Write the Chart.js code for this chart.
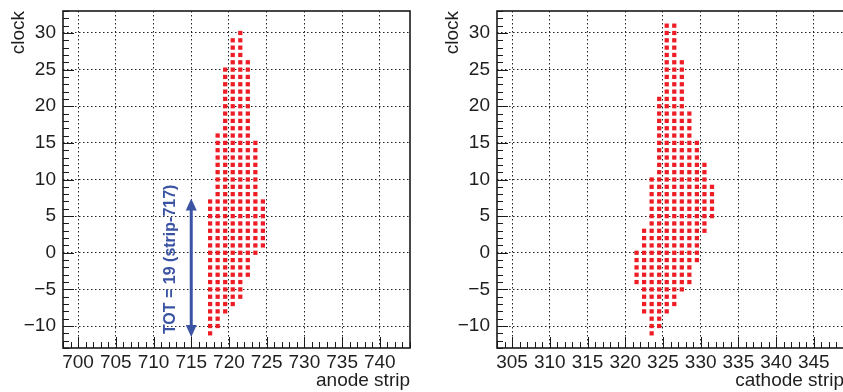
<!DOCTYPE html>
<html><head><meta charset="utf-8">
<script src="https://cdn.jsdelivr.net/npm/chart.js@4.4.1/dist/chart.umd.min.js"></script>
<style>
html,body{margin:0;padding:0;background:#fff;overflow:hidden;width:843px;height:392px;}
#wrap{position:relative;width:843px;height:392px;overflow:hidden;background:#fff;}
.c{position:absolute;top:0;width:434px;height:392px;}
</style></head><body>
<div id="wrap">
<div class="c" style="left:0"><canvas id="anode" width="434" height="392"></canvas></div>
<div class="c" style="left:434px"><canvas id="cathode" width="434" height="392"></canvas></div>
</div>
<script>
// ---- data ----
const clockRows = [31,30,29,28,27,26,25,24,23,22,21,20,19,18,17,16,15,14,13,12,11,10,9,8,7,6,5,4,3,2,1,0,-1,-2,-3,-4,-5,-6,-7,-8,-9,-10,-11];

const anodeStripsByClock = [
  [],
  [721],
  [720,721],
  [720,721],
  [720,721],
  [720,721,722],
  [719,720,721,722],
  [719,720,721,722],
  [719,720,721,722],
  [719,720,721,722],
  [719,720,721,722],
  [719,720,721,722],
  [719,720,721,722],
  [719,720,721,722],
  [719,720,721,722],
  [718,719,720,721,722],
  [718,719,720,721,722,723],
  [718,719,720,721,722,723],
  [718,719,720,721,722,723],
  [718,719,720,721,722,723],
  [718,719,720,721,722,723],
  [718,719,720,721,722,723],
  [718,719,720,721,722,723],
  [718,719,720,721,722,723],
  [717,718,719,720,721,722,723,724],
  [717,718,719,720,721,722,723,724],
  [717,718,719,720,721,722,723,724],
  [717,718,719,720,721,722,723,724],
  [717,718,719,720,721,722,723,724],
  [717,718,719,720,721,722,723,724],
  [717,718,719,720,721,722,723,724],
  [717,718,719,720,721,722,723],
  [717,718,719,720,721,722],
  [717,718,719,720,721,722],
  [717,718,719,720,721,722],
  [717,718,719,720,721],
  [717,718,719,720,721],
  [717,718,719,720,721],
  [717,718,719,720],
  [717,718,719],
  [717,718],
  [717,718],
  [717]
];

const cathodeStripsByClock = [
  [325,326],
  [325,326],
  [325,326],
  [325,326],
  [325,326],
  [325,326,327],
  [325,326,327],
  [325,326,327],
  [325,326,327],
  [325,326,327],
  [324,325,326,327],
  [324,325,326,327],
  [324,325,326,327,328],
  [324,325,326,327,328],
  [324,325,326,327,328],
  [324,325,326,327,328],
  [324,325,326,327,328,329],
  [324,325,326,327,328,329],
  [324,325,326,327,328,329],
  [324,325,326,327,328,329,330],
  [324,325,326,327,328,329,330],
  [323,324,325,326,327,328,329,330],
  [323,324,325,326,327,328,329,330,331],
  [323,324,325,326,327,328,329,330,331],
  [323,324,325,326,327,328,329,330,331],
  [323,324,325,326,327,328,329,330,331],
  [323,324,325,326,327,328,329,330,331],
  [323,324,325,326,327,328,329,330],
  [322,323,324,325,326,327,328,329,330],
  [322,323,324,325,326,327,328,329],
  [322,323,324,325,326,327,328,329],
  [321,322,323,324,325,326,327,328,329],
  [321,322,323,324,325,326,327,328,329],
  [321,322,323,324,325,326,327,328],
  [321,322,323,324,325,326,327,328],
  [321,322,323,324,325,326,327,328],
  [322,323,324,325,326,327],
  [322,323,324,325,326],
  [322,323,324,325,326],
  [322,323,324,325],
  [323,324],
  [323,324],
  [323]
];

const anodeTicks = [700,705,710,715,720,725,730,735,740];
const cathodeTicks = [305,310,315,320,325,330,335,340,345];
const clockTicks = [-10,-5,0,5,10,15,20,25,30];
const anodeRange = [698, 744];
const cathodeRange = [303, 349];
const clockRange = [-13, 33];

// annotation (TOT arrow)
const totLabel = 'TOT = 19 (strip-717)';
const totArrowStrip = 715;
const totArrowClock = [7.4, -11.5];
const totLabelPos = [712.3, -0.9];

// ---- styles ----
const BIN_CENTER = 0.5;
const FONT = '"Liberation Sans", Arial, Helvetica, sans-serif';
const TEXT = '#1e1e1e';
const RED = '#ee1c24';
const BLUE = '#3b53a3';
const GRID = '#222';

function buildPoints(rows, stripsByRow) {
  const pts = [];
  rows.forEach((clock, i) => stripsByRow[i].forEach(s => pts.push({x: s + BIN_CENTER, y: clock})));
  return pts;
}

const framePlugin = {
  id: 'rootFrame',
  afterDraw(chart) {
    const {ctx, chartArea: a} = chart;
    const x = chart.scales.x, y = chart.scales.y;
    ctx.save();
    ctx.strokeStyle = '#1a1a1a';
    ctx.lineWidth = 1;
    ctx.beginPath();
    for (let v = Math.ceil(x.min); v <= x.max; v++) {
      const px = Math.round(x.getPixelForValue(v)) + 0.5;
      const len = v % 5 === 0 ? 11 : 6;
      ctx.moveTo(px, a.bottom); ctx.lineTo(px, a.bottom - len);
    }
    for (let v = Math.ceil(y.min); v <= y.max; v++) {
      const py = Math.round(y.getPixelForValue(v)) + 0.5;
      const len = v % 5 === 0 ? 11 : 6;
      ctx.moveTo(a.left, py); ctx.lineTo(a.left + len, py);
    }
    ctx.stroke();
    ctx.lineWidth = 1.6;
    ctx.strokeRect(a.left, a.top, a.right - a.left, a.bottom - a.top);
    ctx.restore();
  }
};

const totPlugin = {
  id: 'totArrow',
  afterDatasetsDraw(chart) {
    const {ctx} = chart;
    const x = chart.scales.x, y = chart.scales.y;
    const ax = x.getPixelForValue(totArrowStrip);
    const yTop = y.getPixelForValue(totArrowClock[0]);
    const yBot = y.getPixelForValue(totArrowClock[1]);
    const head = 12, half = 5.5;
    ctx.save();
    ctx.strokeStyle = BLUE; ctx.fillStyle = BLUE; ctx.lineWidth = 3;
    ctx.beginPath(); ctx.moveTo(ax, yTop + head - 1); ctx.lineTo(ax, yBot - head + 1); ctx.stroke();
    ctx.beginPath(); ctx.moveTo(ax, yTop); ctx.lineTo(ax - half, yTop + head); ctx.lineTo(ax + half, yTop + head); ctx.closePath(); ctx.fill();
    ctx.beginPath(); ctx.moveTo(ax, yBot); ctx.lineTo(ax - half, yBot - head); ctx.lineTo(ax + half, yBot - head); ctx.closePath(); ctx.fill();
    ctx.translate(x.getPixelForValue(totLabelPos[0]), y.getPixelForValue(totLabelPos[1]));
    ctx.rotate(-Math.PI / 2);
    ctx.font = 'bold 16px ' + FONT;
    ctx.textAlign = 'center'; ctx.textBaseline = 'middle';
    ctx.fillText(totLabel, 0, 0);
    ctx.restore();
  }
};

const fmt = v => (v < 0 ? '\u2212' + Math.abs(v) : String(v));

function makeChart(id, range, xTicks, xTitle, points, extra) {
  return new Chart(document.getElementById(id), {
    type: 'scatter',
    data: { datasets: [{
      data: points, pointStyle: 'rect', pointRadius: 3, pointHoverRadius: 3,
      pointBackgroundColor: RED, pointBorderWidth: 0, borderWidth: 0
    }]},
    options: {
      responsive: false, animation: false, events: [],
      layout: { padding: { top: 11, right: 24, left: 0, bottom: 0 } },
      plugins: { legend: { display: false }, tooltip: { enabled: false } },
      scales: {
        x: {
          type: 'linear', min: range[0], max: range[1],
          afterBuildTicks: s => { s.ticks = xTicks.map(v => ({value: v})); },
          afterFit: s => { s.height = 44; s.paddingLeft = 0; s.paddingRight = 0; },
          grid: { color: GRID, lineWidth: 1, drawTicks: false },
          border: { display: false, dash: [1.5, 2.5] },
          ticks: { font: { family: FONT, size: 19 }, color: TEXT, padding: 3, maxRotation: 0, minRotation: 0, autoSkip: false, callback: fmt },
          title: { display: true, text: xTitle, align: 'end', font: { family: FONT, size: 19 }, color: TEXT, padding: 0 }
        },
        y: {
          type: 'linear', min: clockRange[0], max: clockRange[1],
          afterBuildTicks: s => { s.ticks = clockTicks.map(v => ({value: v})); },
          afterFit: s => { s.width = 63; s.paddingTop = 0; s.paddingBottom = 0; },
          grid: { color: GRID, lineWidth: 1, drawTicks: false },
          border: { display: false, dash: [1.5, 2.5] },
          ticks: { font: { family: FONT, size: 19 }, color: TEXT, padding: 7, autoSkip: false, callback: fmt },
          title: { display: true, text: 'clock', align: 'end', font: { family: FONT, size: 19 }, color: TEXT, padding: { top: 7.6, bottom: 0 } }
        }
      }
    },
    plugins: extra ? [framePlugin, extra] : [framePlugin]
  });
}

makeChart('anode', anodeRange, anodeTicks, 'anode strip', buildPoints(clockRows, anodeStripsByClock), totPlugin);
makeChart('cathode', cathodeRange, cathodeTicks, 'cathode strip', buildPoints(clockRows, cathodeStripsByClock), null);
</script>
</body></html>
